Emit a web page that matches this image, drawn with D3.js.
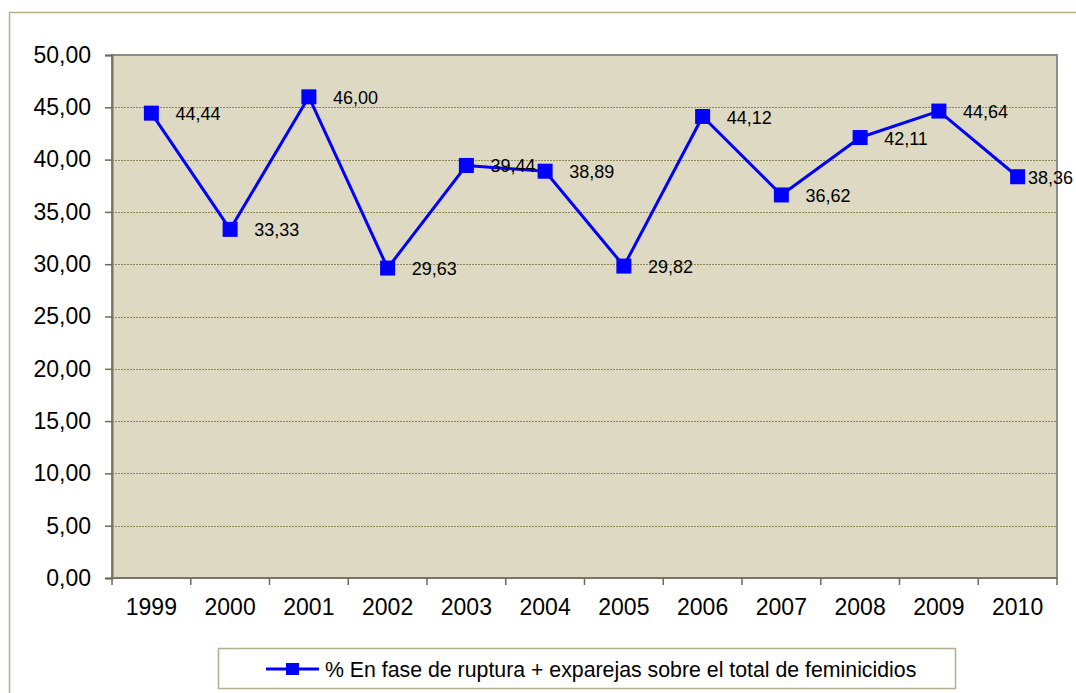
<!DOCTYPE html>
<html>
<head>
<meta charset="utf-8">
<script src="https://cdn.jsdelivr.net/npm/d3@7/dist/d3.min.js"></script>
<style>
  html, body { margin: 0; padding: 0; background: #ffffff; }
  svg { display: block; font-family: Arial, "Liberation Sans", sans-serif; }
</style>
</head>
<body>
<svg id="chart" width="1076" height="693"></svg>
<script>
// Years on the category axis
const years = ["1999", "2000", "2001", "2002", "2003", "2004", "2005", "2006", "2007", "2008", "2009", "2010"];
// Percentage of feminicides by partners in breakup phase + ex-partners
const values = [44.44, 33.33, 46.00, 29.63, 39.44, 38.89, 29.82, 44.12, 36.62, 42.11, 44.64, 38.36];
// Value axis ticks
const yTicks = [0, 5, 10, 15, 20, 25, 30, 35, 40, 45, 50];
const seriesName = "% En fase de ruptura + exparejas sobre el total de feminicidios";

const W = 1076, H = 693;
const plot = { left: 112, right: 1057, top: 55, bottom: 578 };

const fmt = v => v.toFixed(2).replace(".", ",");

const svg = d3.select("#chart");

// Outer chart frame (runs off the right and bottom edges)
svg.append("path")
  .attr("d", `M9.5,${H + 2} V12.5 H${W + 2}`)
  .attr("fill", "none")
  .attr("stroke", "#b5ad8c")
  .attr("stroke-width", 1.5);

const x = d3.scaleBand().domain(years).range([plot.left, plot.right]).padding(0);
const y = d3.scaleLinear().domain([0, 50]).range([plot.bottom, plot.top]);

// Plot area background
svg.append("rect")
  .attr("x", plot.left).attr("y", plot.top)
  .attr("width", plot.right - plot.left).attr("height", plot.bottom - plot.top)
  .attr("fill", "#ddd9c3")
  .attr("stroke", "#8c8c8c")
  .attr("stroke-width", 2);

// Dotted horizontal gridlines
svg.append("g").selectAll("line")
  .data(yTicks.filter(t => t > 0 && t < 50))
  .join("line")
  .attr("x1", plot.left).attr("x2", plot.right)
  .attr("y1", d => Math.round(y(d)) + 0.5).attr("y2", d => Math.round(y(d)) + 0.5)
  .attr("stroke", "#8f8655")
  .attr("stroke-width", 1)
  .attr("stroke-dasharray", "2,1");

// Value axis
const yAxis = d3.axisLeft(y)
  .tickValues(yTicks)
  .tickFormat(fmt)
  .tickSize(7)
  .tickPadding(14);
const gy = svg.append("g").attr("transform", `translate(${plot.left},0)`).call(yAxis);
gy.select(".domain").attr("stroke", "#7a7562").attr("stroke-width", 2);
gy.selectAll(".tick line").attr("stroke", "#6e6a55").attr("stroke-width", 1.5);
gy.selectAll(".tick text")
  .attr("fill", "#000")
  .style("font-size", "23px")
  .style("font-family", "Arial, 'Liberation Sans', sans-serif");

// Category axis: ticks sit between categories
const gx = svg.append("g").attr("transform", `translate(0,${plot.bottom})`);
gx.append("line")
  .attr("x1", plot.left).attr("x2", plot.right)
  .attr("y1", 0).attr("y2", 0)
  .attr("stroke", "#7a7562").attr("stroke-width", 2);
const bounds = years.map(d => x(d)).concat([plot.right]);
gx.selectAll("line.tk").data(bounds).join("line")
  .attr("class", "tk")
  .attr("x1", d => d).attr("x2", d => d)
  .attr("y1", 0).attr("y2", 7)
  .attr("stroke", "#6e6a55").attr("stroke-width", 1.5);
gx.selectAll("text").data(years).join("text")
  .attr("x", d => x(d) + x.bandwidth() / 2)
  .attr("y", 37)
  .attr("text-anchor", "middle")
  .attr("fill", "#000")
  .style("font-size", "23px")
  .text(d => d);

// Series line
const pts = years.map((yr, i) => ({ yr, v: values[i], px: x(yr) + x.bandwidth() / 2, py: y(values[i]) }));
svg.append("path")
  .datum(pts)
  .attr("d", d3.line().x(d => d.px).y(d => d.py))
  .attr("fill", "none")
  .attr("stroke", "#0000ff")
  .attr("stroke-width", 3)
  .attr("stroke-linejoin", "round");

// Square markers
const ms = 15;
svg.append("g").selectAll("rect")
  .data(pts).join("rect")
  .attr("x", d => d.px - ms / 2).attr("y", d => d.py - ms / 2)
  .attr("width", ms).attr("height", ms)
  .attr("fill", "#0000ff");

// Data labels to the right of each point, kept inside the frame
const lbl = svg.append("g").selectAll("text")
  .data(pts).join("text")
  .attr("y", d => d.py + 7)
  .attr("fill", "#000")
  .style("font-size", "18px")
  .text(d => fmt(d.v));
lbl.each(function (d) {
  const w = this.getComputedTextLength();
  d3.select(this).attr("x", Math.min(d.px + 24, W - 3 - w));
});

// Legend
const lg = svg.append("g");
lg.append("rect")
  .attr("x", 218.5).attr("y", 648.5)
  .attr("width", 737).attr("height", 40)
  .attr("fill", "#fff")
  .attr("stroke", "#b5ad8c")
  .attr("stroke-width", 1.5);
lg.append("line")
  .attr("x1", 266).attr("x2", 319).attr("y1", 669).attr("y2", 669)
  .attr("stroke", "#0000ff").attr("stroke-width", 3);
lg.append("rect")
  .attr("x", 286).attr("y", 663).attr("width", 13).attr("height", 12)
  .attr("fill", "#0000ff");
lg.append("text")
  .attr("x", 325).attr("y", 677)
  .attr("fill", "#000")
  .style("font-size", "21.3px")
  .text(seriesName);
</script>
</body>
</html>
